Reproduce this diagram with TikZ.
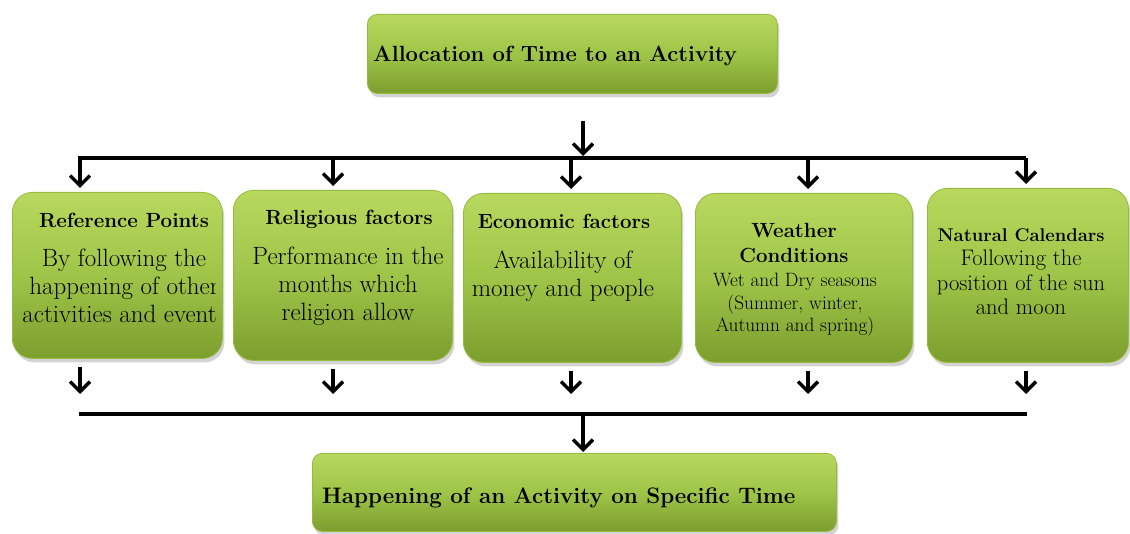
\documentclass[tikz,border=0pt]{standalone}
\usepackage{fontspec}
\usetikzlibrary{arrows.meta,shadows}
\definecolor{boxtop}{RGB}{184,216,94}
\definecolor{boxmid}{RGB}{158,197,72}
\definecolor{boxbot}{RGB}{124,158,46}
\definecolor{boxrim}{RGB}{150,186,62}
\tikzset{
  greenbox/.style={draw=boxrim, line width=0.8pt, rounded corners=#1,
    top color=boxtop, bottom color=boxbot, middle color=boxmid,
    drop shadow={opacity=0.35, shadow xshift=2pt, shadow yshift=-4pt},
    inner sep=0pt, anchor=north west},
  greenbox/.default=20pt,
  % multi-line texts are anchored at the baseline of their last line
  headtext/.style={font=\fontsize{20.5}{25}\selectfont\bfseries, align=center, inner sep=0pt, anchor=base},
  bodytext/.style={font=\fontsize{25}{28}\selectfont, align=center, inner sep=0pt, anchor=base},
  titletext/.style={font=\fontsize{22.4}{26}\selectfont\bfseries, inner sep=0pt, anchor=base west},
  flow/.style={line width=3.5pt, -{Straight Barb[length=10pt,width=20pt]}},
  busline/.style={line width=4pt},
}
\begin{document}
\begin{tikzpicture}[x=1pt,y=-1pt]
\useasboundingbox (0,0) rectangle (1130,534);

% boxes
\node[greenbox=10pt, minimum width=410pt, minimum height=79pt] (top) at (367,14) {};
\node[greenbox, minimum width=210pt, minimum height=166pt] (ref) at (12,192) {};
\node[greenbox, minimum width=219pt, minimum height=170pt] (rel) at (233,190) {};
\node[greenbox, minimum width=218pt, minimum height=169pt] (eco) at (463,193) {};
\node[greenbox, minimum width=217pt, minimum height=169pt] (wea) at (695,193) {};
\node[greenbox, minimum width=201pt, minimum height=174pt] (nat) at (927,188) {};
\node[greenbox=10pt, minimum width=524pt, minimum height=78pt] (happen) at (312,453) {};

% box texts
\node[titletext, font=\fontsize{22}{26}\selectfont\bfseries] (toptext) at (373,62) {Allocation of Time to an Activity};
\node[titletext] (happentext) at (322,503) {Happening of an Activity on Specific Time};

\node[headtext] (refhead) at (124,228) {Reference Points};
\begin{scope}
  \clip (12,240) rectangle (215,350);
  \node[bodytext] (refbody) at (124,323) {By following the\\ happening of other\\ activities and events};
\end{scope}

\node[headtext] (relhead) at (349,225) {Religious factors};
\node[bodytext] (relbody) at (348,321) {Performance in the\\ months which\\ religion allow};

\node[headtext] (ecohead) at (564,229) {Economic factors};
\node[bodytext] (ecobody) at (563,297) {Availability of\\ money and people};

\node[headtext] (weahead) at (794,263) {Weather\\ Conditions};
\node[bodytext, font=\fontsize{19.3}{22.5}\selectfont] (weabody) at (795,332) {Wet and Dry seasons\\ (Summer, winter,\\ Autumn and spring)};

\node[headtext, font=\fontsize{18.4}{24}\selectfont\bfseries] (nathead) at (1021,242) {Natural Calendars};
\node[bodytext, font=\fontsize{22.5}{24.5}\selectfont] (natbody) at (1021,315) {Following the\\ position of the sun\\ and moon};

% distribution bus
\coordinate (topdrop) at (583,121);
\coordinate (topjoin) at (583,156);
\coordinate (busW) at (78,158);
\coordinate (busE) at (1026,158);
\draw[flow] (topdrop) -- (topjoin);
\draw[busline] (busW) -- (busE);

% collecting bus
\coordinate (collW) at (79,414);
\coordinate (collE) at (1027,414);
\coordinate (colljoin) at (583,414);
\draw[busline] (collW) -- (collE);
\draw[flow, shorten >=1pt] (colljoin) -- (colljoin |- happen.north);

\foreach \b/\x in {ref/80,rel/333,eco/571,wea/808,nat/1026}{
  \coordinate (\b-in) at (\x,158);
  \coordinate (\b-out) at (\x,394);
  \draw[flow, shorten >=4pt] (\b-in) -- (\b-in |- \b.north);
  \draw[flow, shorten <=8pt] (\b-out |- \b.south) -- (\b-out);
}
\end{tikzpicture}
\end{document}
